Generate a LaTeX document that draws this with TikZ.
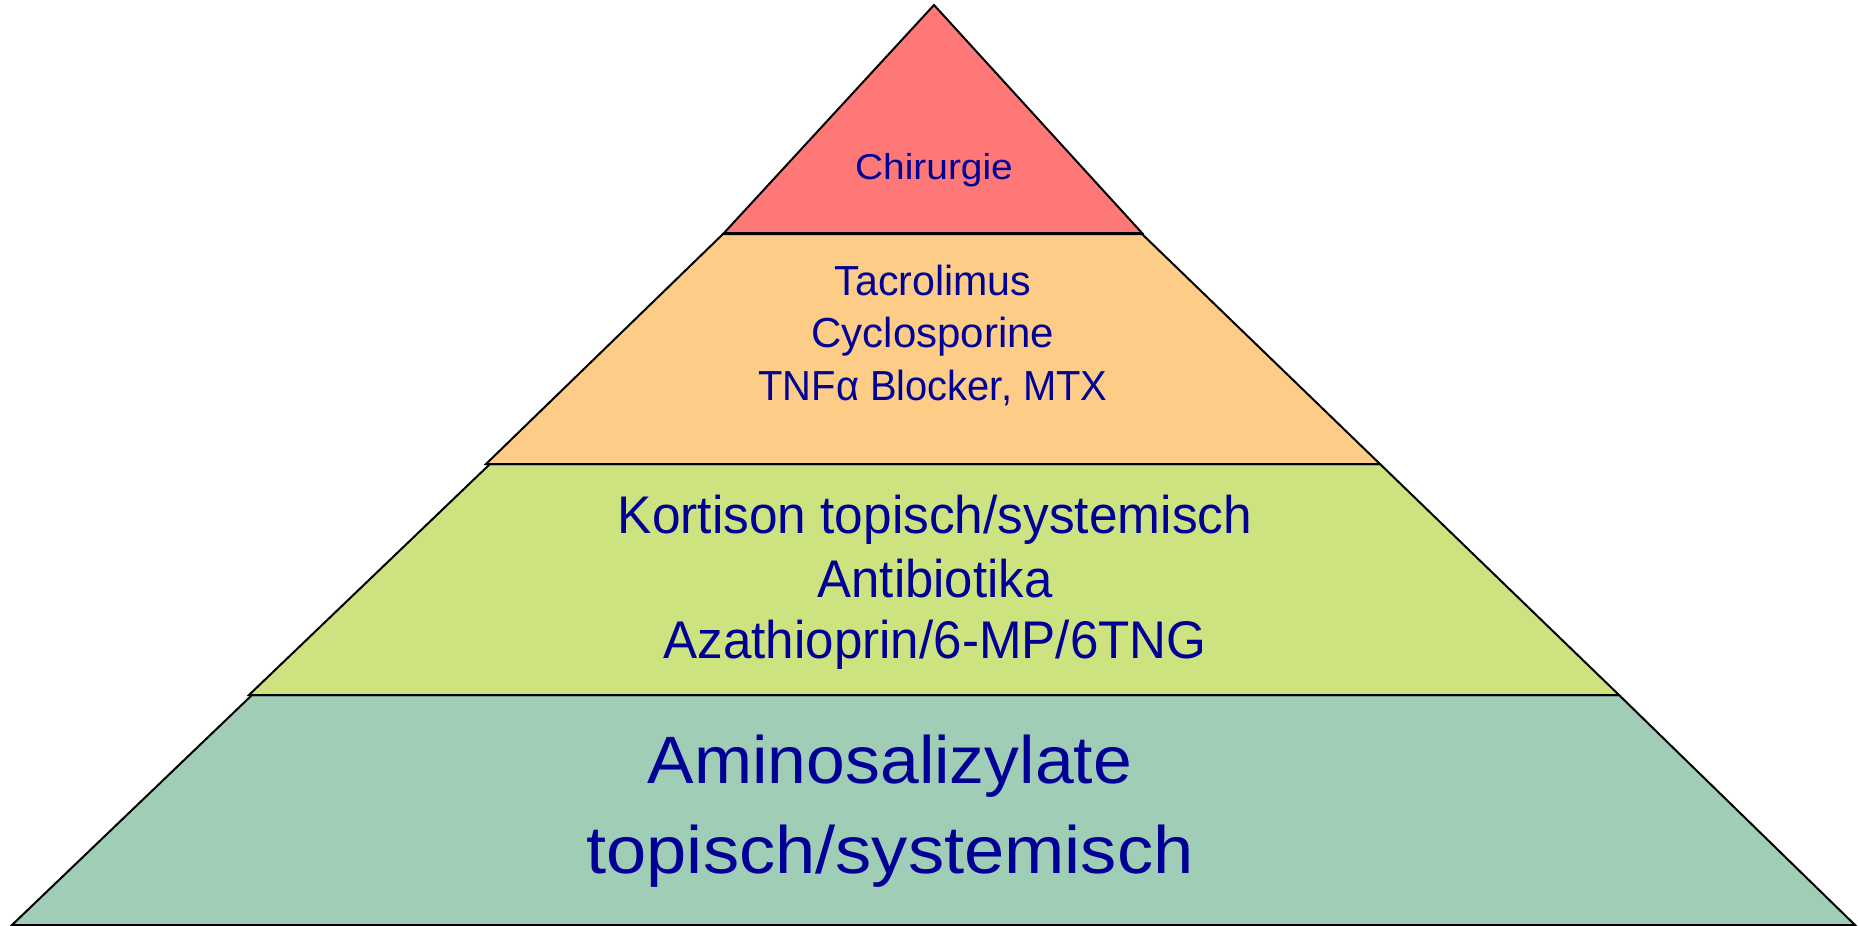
\documentclass[tikz,border=0pt]{standalone}
\usepackage{fontspec}
\setmainfont{Liberation Sans}
\definecolor{lred}{HTML}{FF7878}
\definecolor{lorange}{HTML}{FDCD88}
\definecolor{lgreen}{HTML}{CCE380}
\definecolor{lteal}{HTML}{9FCDB6}
\definecolor{txtblue}{HTML}{000096}
\tikzset{
  layer/.style={draw=black, line width=2pt, line join=miter},
  tx/.style={anchor=base, text=txtblue, inner sep=0pt, outer sep=0pt},
}
\newcommand{\lbl}[3]{\fontsize{#1}{#1}\selectfont\scalebox{#2}[1]{#3}}
\begin{document}
\begin{tikzpicture}[x=1pt,y=-1pt]
\useasboundingbox (0,0) rectangle (1858,926);
% layers
\path[layer, fill=lteal] (252,695) -- (1619,695) -- (1855,925) -- (12,925) -- cycle;
\path[layer, fill=lgreen] (490,464) -- (1380,464) -- (1619,695) -- (249,695) -- cycle;
\path[layer, fill=lorange] (723,234) -- (1142,234) -- (1380,464) -- (486,464) -- cycle;
\path[layer, fill=lred] (934,5) -- (1142,233) -- (724,233) -- cycle;
% texts
\node[tx] (t1) at (934,179) {\lbl{36}{1.08}{Chirurgie}};
\node[tx] (o1) at (933,295) {\lbl{42}{0.98}{Tacrolimus}};
\node[tx] (o2) at (933,347) {\lbl{42}{1.0}{Cyclosporine}};
\node[tx] (o3) at (933,400) {\lbl{42}{0.95}{TNFα Blocker, MTX}};
\node[tx] (g1) at (935,533) {\lbl{53}{0.97}{Kortison topisch/systemisch}};
\node[tx] (g2) at (935,597) {\lbl{53}{0.96}{Antibiotika}};
\node[tx] (g3) at (935,658) {\lbl{53}{0.965}{Azathioprin/6-MP/6TNG}};
\node[tx] (b1) at (890,783) {\lbl{67}{1.04}{Aminosalizylate}};
\node[tx] (b2) at (890,873) {\lbl{67}{1.08}{topisch/systemisch}};
\end{tikzpicture}
\end{document}
